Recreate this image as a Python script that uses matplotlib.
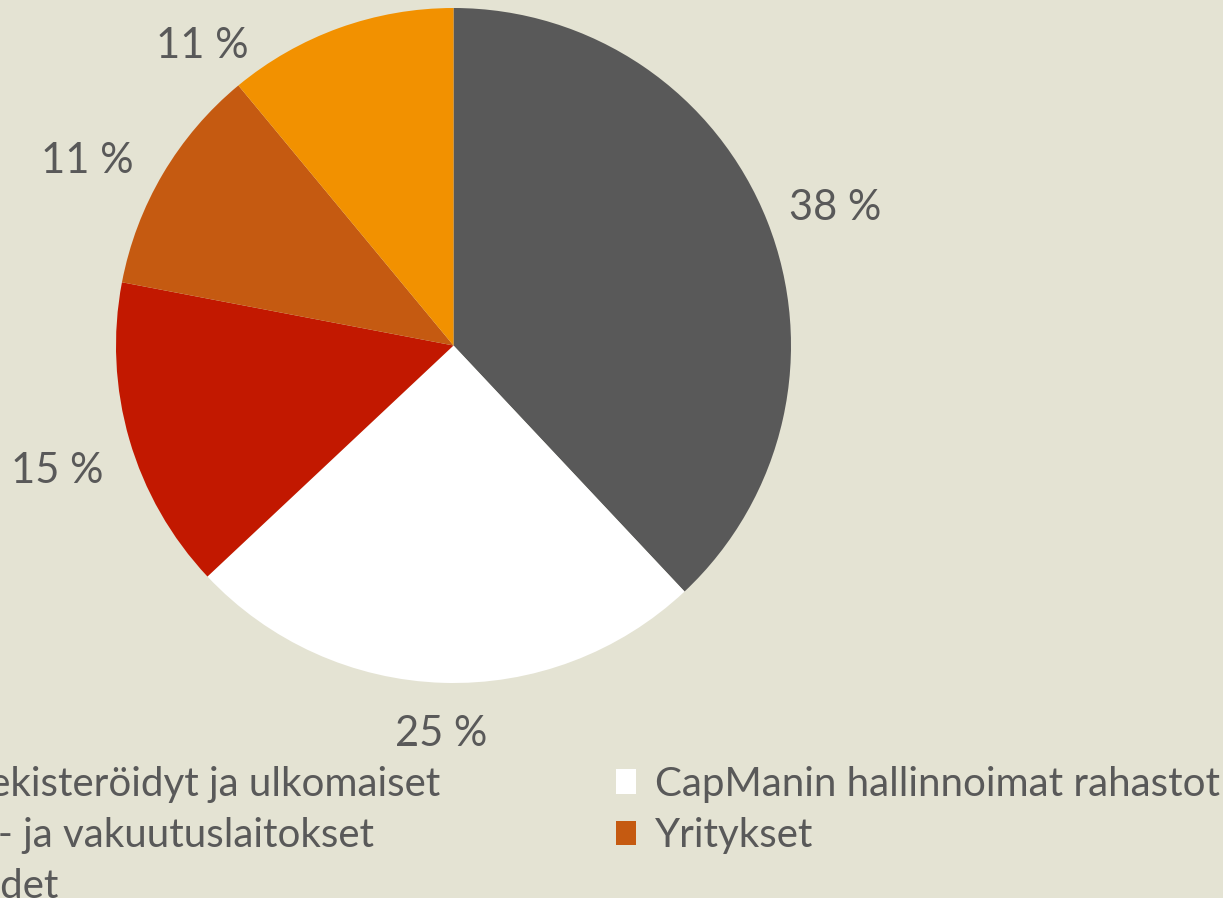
import numpy as np
import matplotlib
matplotlib.use("Agg")
import matplotlib.pyplot as plt
from matplotlib.patches import Patch

# owner groups (legend order) and their shares, %
groups = ["Hallintarekisteröidyt ja ulkomaiset", "CapManin hallinnoimat rahastot",
          "Työeläke- ja vakuutuslaitokset", "Yritykset", "Kotitaloudet"]
shares = [38, 25, 15, 11, 11]
colors = ["#595959", "#FFFFFF", "#C21800", "#C55A11", "#F29100"]

BG = "#E4E3D3"
TXT = "#595959"
FONT = "Lato"
FS = 29

# label layout: radius factor and clockwise angle nudge (deg) per slice
lab_r = [1.205, 1.145, 1.23, 1.22, 1.165]
lab_nudge = [1.5, 0, -1.0, -3.5, -20.0]

W, H, DPI = 1223, 898, 100
cx, cy, R = 453.5, 345.5, 337.5   # pie centre / radius in pixels

fig = plt.figure(figsize=(W / DPI, H / DPI), dpi=DPI, facecolor=BG)
ax = fig.add_axes([0, 0, 1, 1])
ax.set_facecolor(BG)

wedges, _ = ax.pie(shares, colors=colors, startangle=90, counterclock=False,
                   wedgeprops=dict(linewidth=0))

for w, s, r, nd in zip(wedges, shares, lab_r, lab_nudge):
    ang = np.deg2rad((w.theta1 + w.theta2) / 2 - nd)
    ax.text(r * np.cos(ang), r * np.sin(ang) - 0.008, f"{s} %", ha="center", va="center",
            fontsize=30, color=TXT, family=FONT)

ax.set_aspect("auto")
ax.set_xlim(-cx / R, (W - cx) / R)
ax.set_ylim(-(H - cy) / R, cy / R)
ax.axis("off")

# legend is filled column by column -> reorder so it reads row by row
order = [0, 2, 4, 1, 3]
handles = [Patch(facecolor=colors[i], edgecolor="none") for i in order]
leg = fig.legend(handles, [groups[i] for i in order], ncol=2, loc="upper left",
                 bbox_to_anchor=(-201 / W, 1 - 766 / H), frameon=False,
                 prop=dict(family=FONT, size=FS), labelcolor=TXT,
                 handlelength=0.49, handleheight=0.56, handletextpad=0.47,
                 columnspacing=4.37, labelspacing=0.35, borderpad=0, borderaxespad=0)

fig.savefig("out.png", dpi=DPI, facecolor=BG)
